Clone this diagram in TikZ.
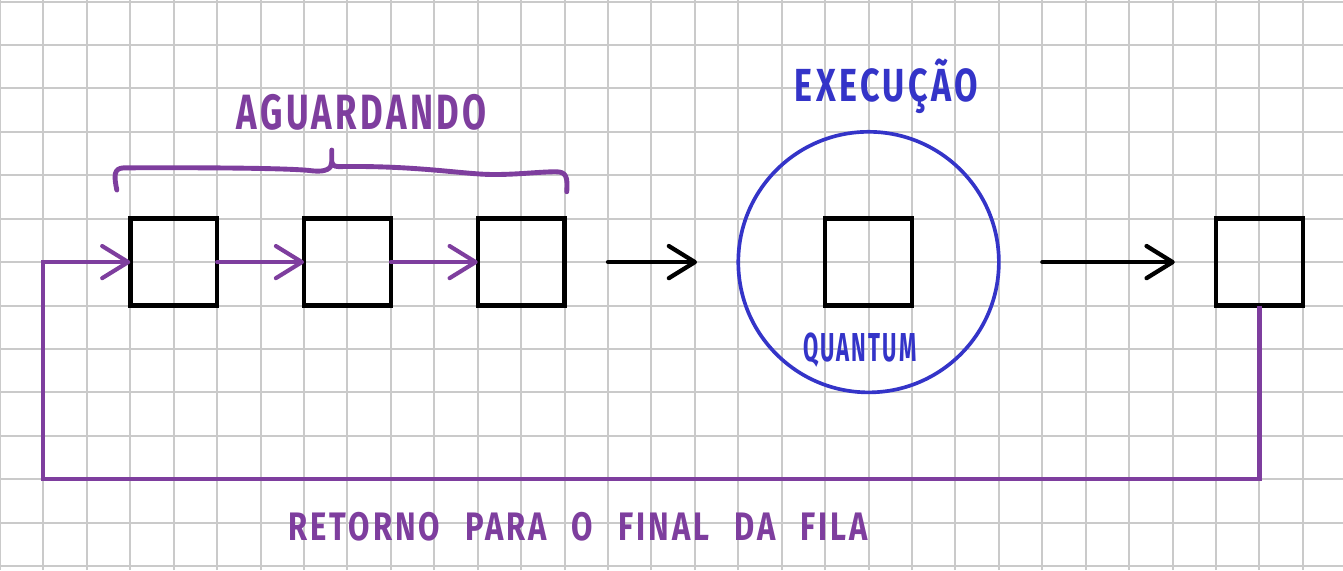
\documentclass[tikz,border=0pt]{standalone}
\usepackage{fontspec}
\usepackage{graphicx}
\setmainfont{Fira Sans}
\newfontfamily\handfont[LetterSpace=10]{Fira Sans}
\usetikzlibrary{arrows.meta}
\definecolor{purp}{RGB}{126,62,158}
\definecolor{inkblue}{RGB}{52,52,200}
\definecolor{gridgray}{RGB}{202,202,202}
\tikzset{
  gridline/.style={draw=gridgray, line width=1.3pt},
  boxnode/.style={draw=black, line width=2.9pt, minimum size=2cm, inner sep=0pt, outer sep=0pt},
  ringnode/.style={draw=inkblue, circle, line width=2.4pt, minimum size=6cm, inner sep=0pt, outer sep=0pt},
  barb/.tip={Straight Barb[length=0.6cm, width=0.74cm, round]},
  purplink/.style={draw=purp, line width=2.7pt, -barb, line cap=round},
  blacklink/.style={draw=black, line width=2.8pt, -barb, line cap=round},
  bracestroke/.style={draw=purp, line width=3.2pt, line cap=round, line join=round},
  handtext/.style={inner sep=0pt, outer sep=0pt, anchor=base, font=\handfont\bfseries}
}
\begin{document}
\begin{tikzpicture}
  \useasboundingbox (0,-13.095) rectangle (30.924,0.035);
  \fill[white] (0,-13.095) rectangle (30.924,0.035);
  \draw[gridline] (0,-13.095) grid (30.924,0.035);

  % boxes
  \node[boxnode] (b1) at (4,-6) {};
  \node[boxnode] (b2) at (8,-6) {};
  \node[boxnode] (b3) at (12,-6) {};
  \node[ringnode] (exec) at (20,-6) {};
  \node[boxnode] (b4) at (20,-6) {};
  \node[boxnode] (b5) at (29,-6) {};
  \coordinate (ret) at (1,-11);

  % connectors
  \draw[purplink] (b1.east) -- (b2.west);
  \draw[purplink] (b2.east) -- (b3.west);
  \draw[purplink, line cap=butt] (b5.south) |- (ret) |- (b1.west);
  \draw[blacklink, shorten <=1cm, shorten >=0.95cm] (b3.east) -- (exec.west);
  \draw[blacklink, shorten <=1cm, shorten >=0.95cm] (exec.east) -- (b5.west);

  % brace
  \draw[bracestroke] (2.69,-4.34) .. controls (2.62,-4.0) and (2.62,-3.84) .. (2.85,-3.83)
     .. controls (5,-3.82) and (6.8,-3.84) .. (7.2,-3.9)
     .. controls (7.5,-3.93) and (7.64,-3.85) .. (7.64,-3.7) -- (7.64,-3.42);
  \draw[bracestroke] (7.64,-3.7) .. controls (7.66,-3.8) and (7.75,-3.81) .. (7.9,-3.8)
     .. controls (9.5,-3.78) and (10.5,-3.95) .. (11.2,-3.98)
     .. controls (11.8,-4.0) and (12.4,-3.92) .. (12.8,-3.92)
     .. controls (13.05,-3.92) and (13.07,-4.05) .. (13.05,-4.38);

  % texts
  \node[handtext, text=purp] (aguard) at (8.33,-2.94) {\resizebox{5.76cm}{0.81cm}{AGUARDANDO}};
  \node[handtext, text=inkblue] (exectxt) at (20.41,-2.31) {\resizebox{4.21cm}{0.74cm}{\smash{EXECUÇÃO}\vphantom{E}}};
  \node[handtext, text=inkblue] (quantum) at (19.8,-8.3) {\resizebox{2.62cm}{0.66cm}{QUANTUM}};
  \node[handtext, text=purp] (retorno) at (13.31,-12.4) {\resizebox{13.35cm}{0.65cm}{RETORNO\hspace{0.8em}PARA\hspace{0.8em}O\hspace{0.8em}FINAL\hspace{0.8em}DA\hspace{0.8em}FILA}};
\end{tikzpicture}
\end{document}
